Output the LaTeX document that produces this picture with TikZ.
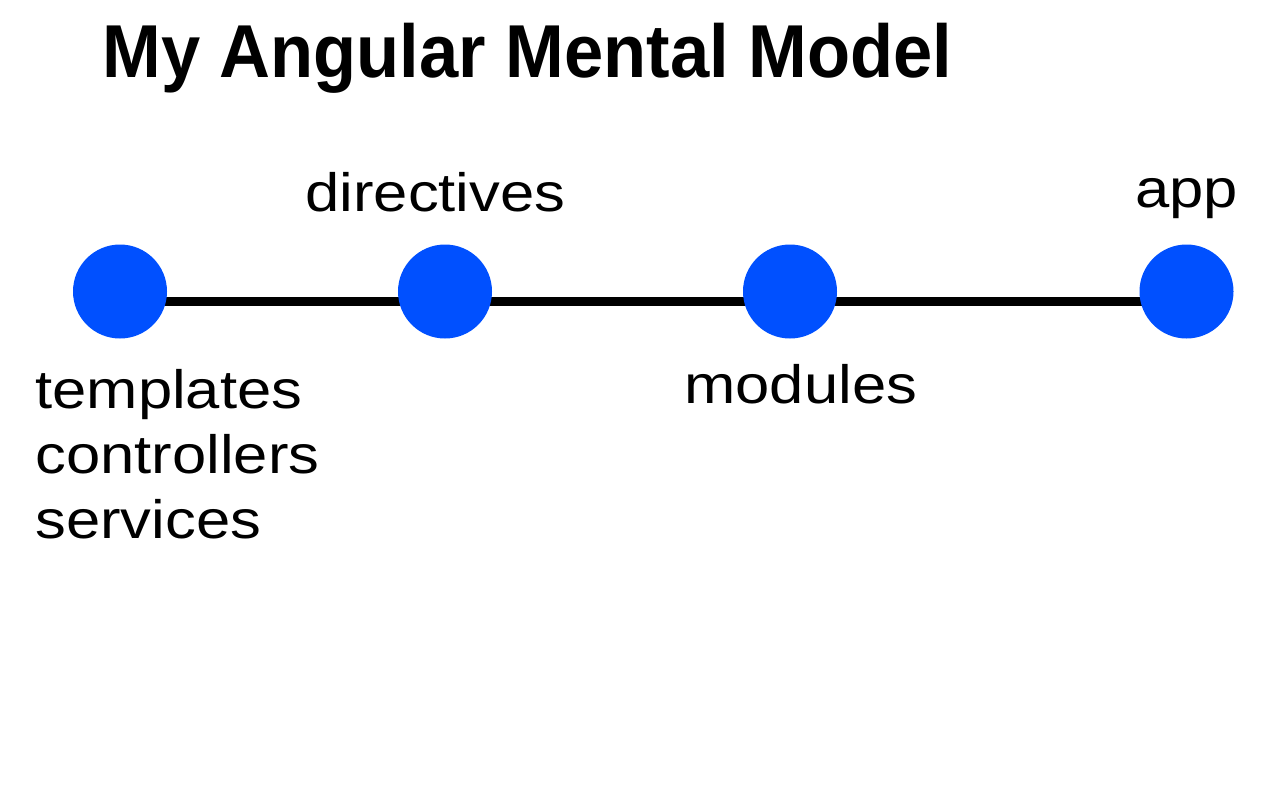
\documentclass[tikz,border=0pt]{standalone}
\usepackage{fontspec}
\setmainfont{Liberation Sans}[FakeStretch=1.14]
\newfontfamily\titlefont{Liberation Sans}[FakeStretch=0.94]
\usetikzlibrary{backgrounds}
\definecolor{dotblue}{HTML}{0050FF}

\begin{document}
\begin{tikzpicture}[x=0.5pt,y=-0.5pt,
    dot/.style={circle,fill=dotblue,minimum size=47pt,inner sep=0pt},
    lbl/.style={anchor=base west,inner sep=0pt,font=\fontsize{27}{32.5}\selectfont,align=left}]
      \useasboundingbox (0,0) rectangle (1280,800);
      \node[anchor=base west,inner sep=0pt,font=\titlefont\bfseries\fontsize{37.5}{40}\selectfont] (title) at (102,77) {My Angular Mental Model};
      \node[dot] (tpl) at (120,291.5) {};
      \node[dot] (dir) at (445,291.5) {};
      \node[dot] (mod) at (790,291.5) {};
      \node[dot] (app) at (1186.5,291.5) {};
      \begin{scope}[on background layer]
        \draw[line width=4.5pt] ([yshift=-4.75pt]tpl.center) -- ([yshift=-4.75pt]app.center);
      \end{scope}
      % base of a multi-line node sits on its last line
      \node[lbl] (tpltext) at (35,538) {templates\\controllers\\services};
      \node[lbl] (dirtext) at (305,211) {directives};
      \node[lbl] (modtext) at (684,403) {modules};
      \node[lbl] (apptext) at (1135,207) {app};
    \end{tikzpicture}
\end{document}
